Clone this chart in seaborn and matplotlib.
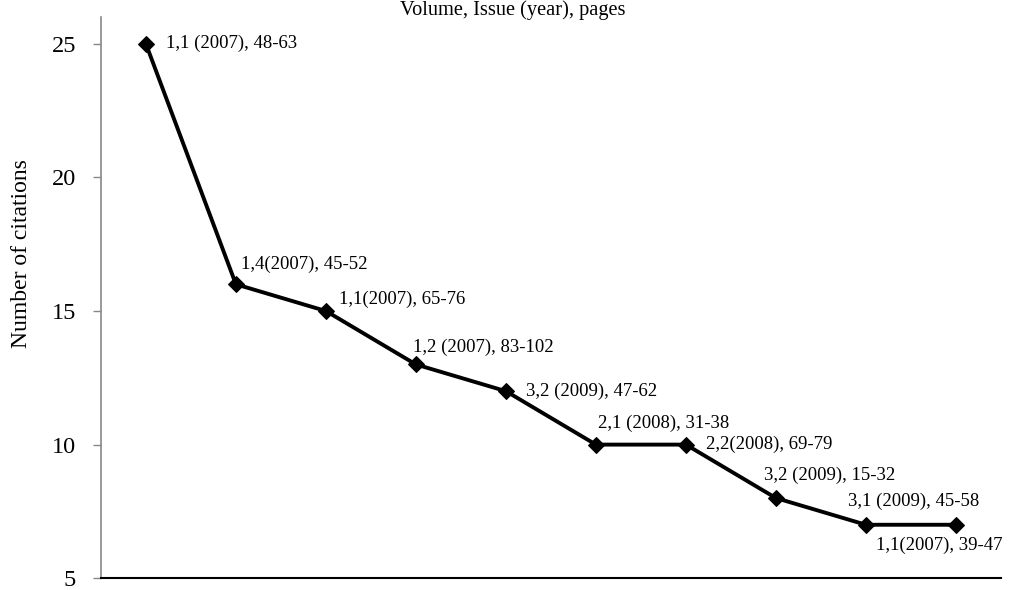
import pandas as pd
import seaborn as sns
from matplotlib import pyplot as plt

# citations per paper, labelled "Volume,Issue (year), pages"
papers = ["1,1 (2007), 48-63", "1,4(2007), 45-52", "1,1(2007), 65-76",
          "1,2 (2007), 83-102", "3,2 (2009), 47-62", "2,1 (2008), 31-38",
          "2,2(2008), 69-79", "3,2 (2009), 15-32", "3,1 (2009), 45-58",
          "1,1(2007), 39-47"]
citations = [25, 16, 15, 13, 12, 10, 10, 8, 7, 7]

# label offsets in pixels (dx, dy) and alignment
offsets = [(20, 0, "left"), (5, 20, "left"), (13, 12, "left"), (-3, 17, "left"),
           (20, 0, "left"), (2, 21, "left"), (20, 0, "left"), (-12, 23, "left"),
           (-18, 23, "left"), (47, -21, "right")]

df = pd.DataFrame({"rank": range(len(citations)), "citations": citations, "paper": papers})

sns.set_theme(style="white")
plt.rcParams["font.family"] = ["Liberation Serif", "DejaVu Serif"]

fig = plt.figure(figsize=(10.09, 5.90), dpi=100)
ax = fig.add_axes([0.100, 0.020, 0.892, 0.951])

sns.lineplot(data=df, x="rank", y="citations", color="black", linewidth=2.8,
             marker="D", markersize=8.5, markeredgecolor="black", ax=ax)

for (_, row), (dx, dy, ha) in zip(df.iterrows(), offsets):
    ax.annotate(row["paper"], (row["rank"], row["citations"]),
                xytext=(dx, dy), textcoords="offset pixels",
                ha=ha, va="center", fontsize=13.5, color="black")

ax.set_xlim(-0.5, 9.5)
ax.set_ylim(5, 26)
ax.set_yticks([5, 10, 15, 20, 25])
ax.set_xticks([])
ax.set_xlabel("")
ax.set_ylabel("Number of citations", fontsize=17, color="black")
ax.yaxis.set_label_coords(-0.077, 0.578)
ax.tick_params(axis="y", left=True, length=6, width=1, color="#888888",
               labelsize=17.5, labelcolor="black", pad=12)
for s in ["top", "right"]:
    ax.spines[s].set_visible(False)
ax.spines["left"].set_color("#888888")
ax.spines["left"].set_linewidth(1.2)
ax.spines["bottom"].set_color("black")
ax.spines["bottom"].set_linewidth(1.5)

fig.text(513 / 1009, 1 - 10 / 590, "Volume, Issue (year), pages",
         ha="center", va="center", fontsize=14.7, color="black")

fig.savefig("out.png", dpi=100)
